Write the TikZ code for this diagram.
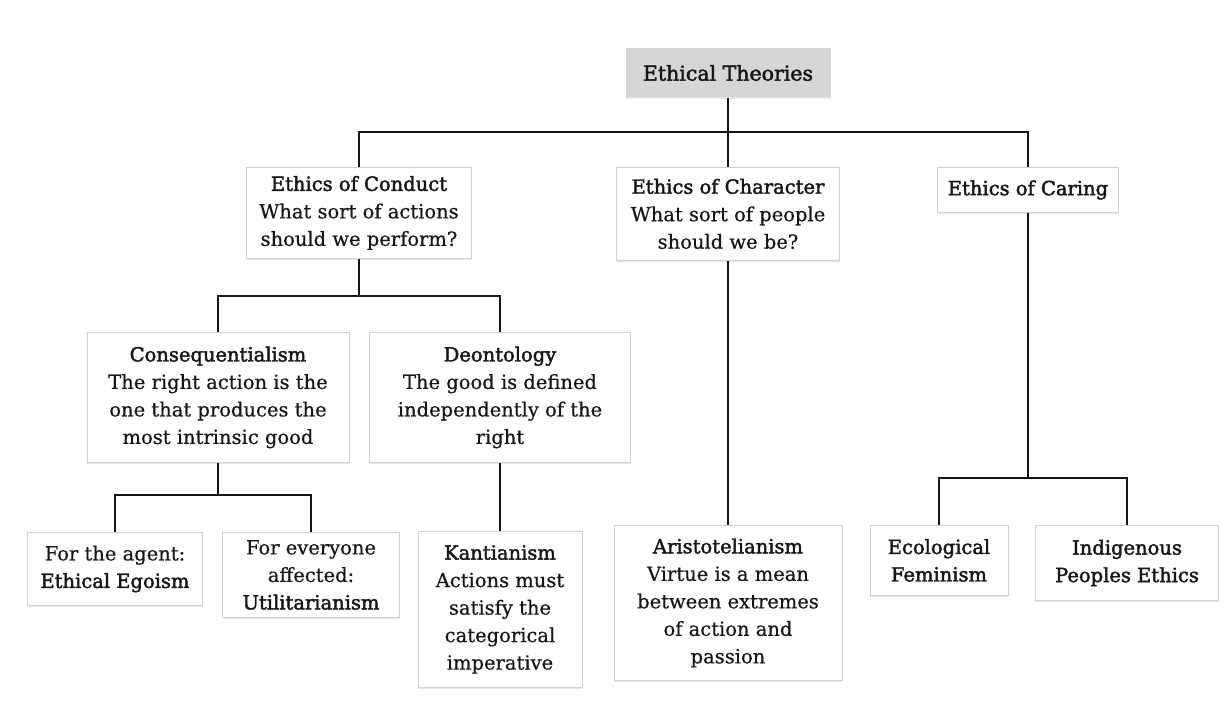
\documentclass[tikz,border=0pt]{standalone}
\usepackage{fontspec}
\setmainfont{DejaVu Serif}[FakeBold=0.5]
\newfontfamily\headfont[FakeBold=2]{DejaVu Serif}
\usetikzlibrary{shadows}
\definecolor{ink}{HTML}{161616}
\definecolor{edge}{HTML}{D0D0D0}
\definecolor{rootfill}{HTML}{D6D6D6}
\begin{document}
\begin{tikzpicture}[x=1pt, y=-1pt,
  font=\fontsize{19.5}{27.5}\selectfont, text=ink,
  box/.style={draw=edge, line width=0.9pt, fill=white, align=center,
    anchor=north, inner sep=0pt,
    drop shadow={shadow xshift=0pt, shadow yshift=-1.5pt, opacity=0.18, fill=gray}},
  link/.style={draw=ink, line width=1.5pt}]
\useasboundingbox (0,0) rectangle (1231,702);

% top level
\node[box, draw=none, fill=rootfill, minimum width=205, minimum height=49,
  font=\fontsize{20.5}{27.5}\selectfont] (root) at (728,48)
  {\headfont Ethical Theories};

% three families of theory
\node[box, minimum width=225, minimum height=91] (conduct) at (359,167)
  {{\headfont Ethics of Conduct}\\What sort of actions\\should we perform?};
\node[box, minimum width=223, minimum height=93] (character) at (728,167)
  {{\headfont Ethics of Character}\\What sort of people\\should we be?};
\node[box, minimum width=181, minimum height=45] (caring) at (1028,167)
  {\headfont Ethics of Caring};

% ethics of conduct
\node[box, minimum width=262, minimum height=130] (conseq) at (218,332)
  {{\headfont Consequentialism}\\The right action is the\\one that produces the\\most intrinsic good};
\node[box, minimum width=261, minimum height=130] (deont) at (500,332)
  {{\headfont Deontology}\\The good is defined\\independently of the\\right};

% leaves
\node[box, minimum width=175, minimum height=73] (egoism) at (115,532)
  {For the agent:\\{\headfont Ethical Egoism}};
\node[box, minimum width=177, minimum height=85] (util) at (311,532)
  {For everyone\\affected:\\{\headfont Utilitarianism}};
\node[box, minimum width=164, minimum height=156] (kant) at (500,531)
  {{\headfont Kantianism}\\Actions must\\satisfy the\\categorical\\imperative};
\node[box, minimum width=228, minimum height=155] (aristo) at (728,525)
  {{\headfont Aristotelianism}\\Virtue is a mean\\between extremes\\of action and\\passion};
\node[box, minimum width=138, minimum height=70] (ecofem) at (939,525)
  {\headfont Ecological\\\headfont Feminism};
\node[box, minimum width=183, minimum height=75] (indig) at (1127,525)
  {\headfont Indigenous\\\headfont Peoples Ethics};

% connectors
\coordinate (busA) at (0,132);
\coordinate (busB) at (0,296);
\coordinate (busC) at (0,495);
\coordinate (busD) at (0,478);
\draw[link] (root.south) -- (character.north);
\draw[link] (conduct.north) |- (caring.north |- busA) -- (caring.north);
\draw[link] (conduct.south) -- (conduct.south |- busB);
\draw[link] (conseq.north) |- (deont.north |- busB) -- (deont.north);
\draw[link] (conseq.south) -- (conseq.south |- busC);
\draw[link] (egoism.north) |- (util.north |- busC) -- (util.north);
\draw[link] (deont.south) -- (kant.north);
\draw[link] (character.south) -- (aristo.north);
\draw[link] (caring.south) -- (caring.south |- busD);
\draw[link] (ecofem.north) |- (indig.north |- busD) -- (indig.north);
\end{tikzpicture}
\end{document}
